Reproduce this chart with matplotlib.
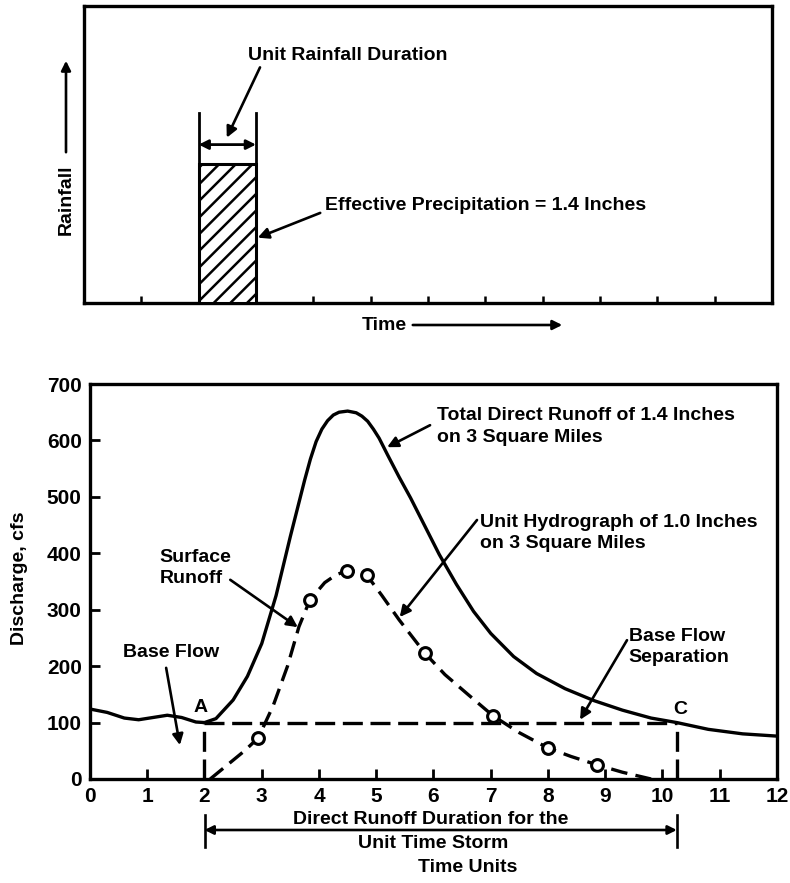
import matplotlib
matplotlib.use("Agg")
import matplotlib.pyplot as plt

plt.rcParams['font.family'] = ['Liberation Sans', 'DejaVu Sans']
plt.rcParams['font.weight'] = 'bold'
plt.rcParams['hatch.linewidth'] = 1.8

# ---------------- data ----------------
# Top panel: effective rainfall block
rain_start = 2.0
rain_duration = 1.0
rain_depth = 1.4            # inches

# Bottom panel: total direct runoff hydrograph (solid)
total_t = [0.0, 0.3, 0.6, 0.85, 1.1, 1.35, 1.6, 1.85, 2.0, 2.2, 2.5, 2.75,
           3.0, 3.25, 3.5, 3.75, 3.85, 3.95, 4.05, 4.15, 4.25, 4.35, 4.5,
           4.65, 4.75, 4.85, 4.95, 5.05, 5.2, 5.4, 5.6, 5.85, 6.1, 6.4, 6.7,
           7.0, 7.4, 7.8, 8.3, 8.8, 9.3, 9.8, 10.25, 10.8, 11.4, 12.0]
total_q = [124, 118, 108, 105, 109, 113, 109, 101, 100, 107, 140, 182,
           240, 325, 430, 530, 567, 598, 620, 635, 645, 650, 652,
           649, 643, 634, 620, 604, 574, 535, 498, 448, 398, 345, 297,
           258, 217, 187, 160, 139, 122, 108, 100, 88, 80, 76]

# Unit hydrograph (dashed)
unit_t = [2.1, 2.4, 2.7, 2.94, 3.2, 3.45, 3.65, 3.84, 4.1, 4.3, 4.49, 4.66,
          4.83, 5.1, 5.4, 5.85, 6.2, 6.6, 7.04, 7.5, 8.0, 8.4, 8.86, 9.3, 9.8]
unit_q = [0, 25, 50, 73, 130, 200, 270, 317, 348, 362, 369, 368,
          362, 325, 282, 223, 185, 150, 112, 82, 55, 40, 25, 12, 0]

# Unit hydrograph ordinates (circles)
pts_t = [2.94, 3.84, 4.49, 4.83, 5.85, 7.04, 8.0, 8.86]
pts_q = [73, 317, 369, 362, 223, 112, 55, 25]

# Base flow separation
sep_start = 2.0
sep_end = 10.25
sep_q = 100

x_ticks = list(range(0, 13))
y_ticks = list(range(0, 701, 100))

# ---------------- figure ----------------
W, H = 790, 883
fig = plt.figure(figsize=(W / 100, H / 100), dpi=100)

def fx(px):
    return px / W

def fy(py):
    return 1 - py / H

LW = 2.4

# ---- top panel ----
axt = fig.add_axes([fx(84), fy(303), fx(772) - fx(84), fy(6) - fy(303)])
axt.set_xlim(0, 12)
axt.set_ylim(0, 3.0)
axt.bar(rain_start + rain_duration / 2, rain_depth, width=rain_duration,
        facecolor='white', edgecolor='black', hatch='//', linewidth=2.2, zorder=3)
for s in axt.spines.values():
    s.set_linewidth(2.4)
axt.set_xticks(range(1, 12))
axt.set_yticks([])
axt.tick_params(axis='x', direction='in', length=5, width=1.8, labelbottom=False)

# duration bracket
for xv in (rain_start, rain_start + rain_duration):
    axt.plot([xv, xv], [rain_depth, 1.92], color='black', lw=2, zorder=4)
axt.annotate('', xy=(rain_start, 1.6), xytext=(rain_start + rain_duration, 1.6),
             arrowprops=dict(arrowstyle='<|-|>', color='black', lw=2,
                             mutation_scale=14, shrinkA=0, shrinkB=0))
tfs = 14
axt.text(2.86, 2.5, 'Unit Rainfall Duration', fontsize=tfs, fontweight='bold',
         ha='left', va='center')
axt.annotate('', xy=(2.49, 1.67), xytext=(3.07, 2.38),
             arrowprops=dict(arrowstyle='-|>', color='black', lw=1.9,
                             mutation_scale=16, shrinkA=0, shrinkB=0))
axt.text(4.2, 0.98, 'Effective Precipitation = 1.4 Inches', fontsize=tfs,
         fontweight='bold', ha='left', va='center')
axt.annotate('', xy=(3.03, 0.66), xytext=(4.12, 0.91),
             arrowprops=dict(arrowstyle='-|>', color='black', lw=1.9,
                             mutation_scale=16, shrinkA=0, shrinkB=0))

# Rainfall / Time arrow labels (figure coords)
fig.text(fx(66), fy(200), 'Rainfall', rotation=90, fontsize=tfs,
         fontweight='bold', ha='center', va='center')
fig.add_artist(matplotlib.patches.FancyArrowPatch(
    (fx(66), fy(155)), (fx(66), fy(58)), transform=fig.transFigure,
    arrowstyle='-|>', mutation_scale=14, color='black', lw=1.9))
fig.text(fx(362), fy(325), 'Time', fontsize=tfs, fontweight='bold',
         ha='left', va='center')
fig.add_artist(matplotlib.patches.FancyArrowPatch(
    (fx(410), fy(325)), (fx(565), fy(325)), transform=fig.transFigure,
    arrowstyle='-|>', mutation_scale=14, color='black', lw=1.9))

# ---- bottom panel ----
ax = fig.add_axes([fx(90), fy(779), fx(777) - fx(90), fy(384) - fy(779)])
ax.set_xlim(0, 12)
ax.set_ylim(0, 700)
for s in ax.spines.values():
    s.set_linewidth(2.4)
ax.set_xticks(x_ticks)
ax.set_yticks(y_ticks)
ax.tick_params(direction='in', length=7, width=2, labelsize=15, pad=6)
for lab in ax.get_xticklabels() + ax.get_yticklabels():
    lab.set_fontweight('bold')

ax.plot(total_t, total_q, color='black', lw=LW, solid_joinstyle='round',
        solid_capstyle='round', zorder=3)
ax.plot(unit_t, unit_q, color='black', lw=LW, linestyle=(0, (5, 2.5)), zorder=3)
ax.plot(pts_t, pts_q, linestyle='none', marker='o', markersize=8.5,
        markerfacecolor='white', markeredgecolor='black', markeredgewidth=2.2,
        zorder=4)

# base flow separation
sep_style = dict(color='black', lw=LW, linestyle=(0, (6, 2.3)), zorder=2)
ax.plot([sep_start, sep_end], [sep_q, sep_q], **sep_style)
ax.plot([sep_start, sep_start], [0, sep_q], **sep_style)
ax.plot([sep_end, sep_end], [0, sep_q], **sep_style)

fs = 14
arr = dict(arrowstyle='-|>', color='black', lw=1.9, mutation_scale=16,
           shrinkA=0, shrinkB=0)

ax.text(6.06, 645, 'Total Direct Runoff of 1.4 Inches', fontsize=fs,
        fontweight='bold', ha='left', va='center')
ax.text(6.06, 606, 'on 3 Square Miles', fontsize=fs, fontweight='bold',
        ha='left', va='center')
ax.annotate('', xy=(5.19, 588), xytext=(5.94, 627), arrowprops=arr)

ax.text(6.81, 455, 'Unit Hydrograph of 1.0 Inches', fontsize=fs,
        fontweight='bold', ha='left', va='center')
ax.text(6.81, 418, 'on 3 Square Miles', fontsize=fs, fontweight='bold',
        ha='left', va='center')
ax.annotate('', xy=(5.41, 287), xytext=(6.76, 459), arrowprops=arr)

ax.text(9.41, 252, 'Base Flow', fontsize=fs, fontweight='bold',
        ha='left', va='center')
ax.text(9.41, 216, 'Separation', fontsize=fs, fontweight='bold',
        ha='left', va='center')
ax.annotate('', xy=(8.56, 105), xytext=(9.38, 246), arrowprops=arr)

ax.text(1.22, 392, 'Surface', fontsize=fs, fontweight='bold',
        ha='left', va='center')
ax.text(1.22, 356, 'Runoff', fontsize=fs, fontweight='bold',
        ha='left', va='center')
ax.annotate('', xy=(3.63, 269), xytext=(2.45, 353), arrowprops=arr)

ax.text(0.58, 225, 'Base Flow', fontsize=fs, fontweight='bold',
        ha='left', va='center')
ax.annotate('', xy=(1.57, 60), xytext=(1.33, 197), arrowprops=arr)

ax.text(1.94, 126, 'A', fontsize=fs, fontweight='bold', ha='center', va='center')
ax.text(10.31, 124, 'C', fontsize=fs, fontweight='bold', ha='center', va='center')

# y label
fig.text(fx(20), fy(578), 'Discharge, cfs', rotation=90, fontsize=fs,
         fontweight='bold', ha='center', va='center')

# direct runoff duration bracket below axis
for xv in (sep_start, sep_end):
    xp = 90 + xv * (777 - 90) / 12
    fig.add_artist(matplotlib.lines.Line2D([fx(xp), fx(xp)], [fy(815), fy(847)],
                                           transform=fig.transFigure,
                                           color='black', lw=1.9))
xa = 90 + sep_start * (777 - 90) / 12
xb = 90 + sep_end * (777 - 90) / 12
fig.add_artist(matplotlib.patches.FancyArrowPatch(
    (fx(xa), fy(830)), (fx(xb), fy(830)), transform=fig.transFigure,
    arrowstyle='<|-|>', mutation_scale=13, color='black', lw=1.9,
    shrinkA=0, shrinkB=0))
fig.text(fx(431), fy(819), 'Direct Runoff Duration for the', fontsize=fs,
         fontweight='bold', ha='center', va='center')
fig.text(fx(433), fy(843), 'Unit Time Storm', fontsize=fs,
         fontweight='bold', ha='center', va='center')
fig.text(fx(468), fy(867), 'Time Units', fontsize=fs,
         fontweight='bold', ha='center', va='center')

fig.savefig('out.png', dpi=100)
